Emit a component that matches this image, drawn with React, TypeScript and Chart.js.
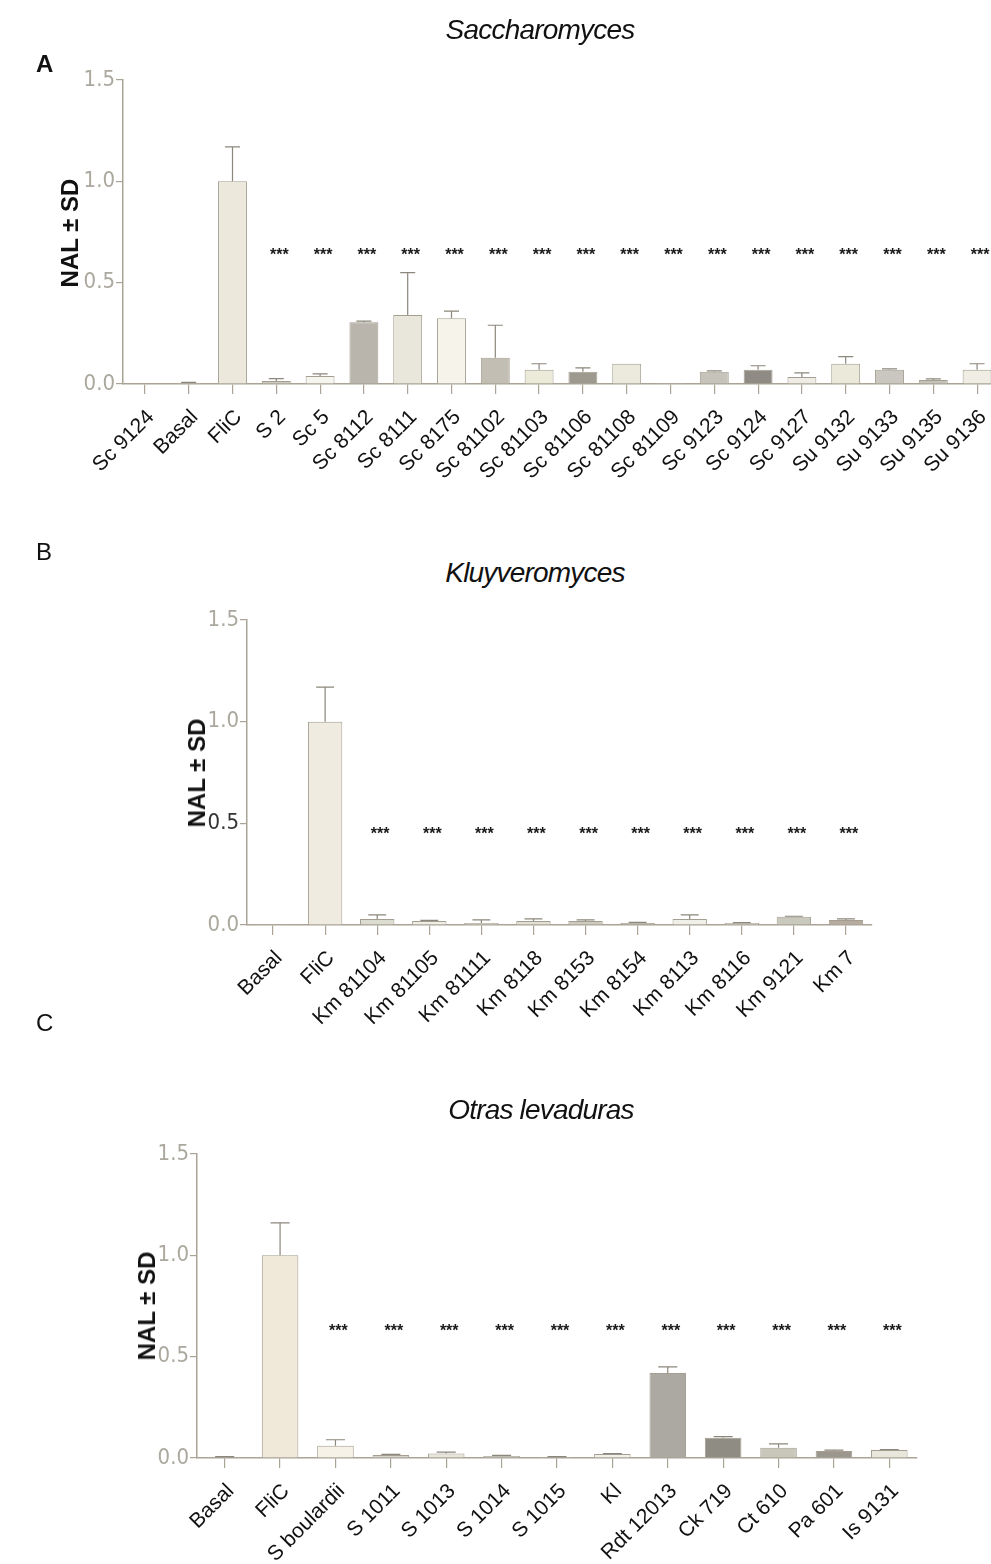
import React, { useEffect, useRef } from 'react';
import { Chart, registerables } from 'chart.js';

Chart.register(...registerables);

// ---- Panel A: Saccharomyces ----
const catsA = ['Sc 9124', 'Basal', 'FliC', 'S 2', 'Sc 5', 'Sc 8112', 'Sc 8111', 'Sc 8175', 'Sc 81102', 'Sc 81103', 'Sc 81106', 'Sc 81108', 'Sc 81109', 'Sc 9123', 'Sc 9124', 'Sc 9127', 'Su 9132', 'Su 9133', 'Su 9135', 'Su 9136'];
const nalA = [0, 0.005, 1.0, 0.015, 0.04, 0.305, 0.34, 0.325, 0.13, 0.07, 0.06, 0.1, 0.005, 0.06, 0.07, 0.035, 0.1, 0.07, 0.02, 0.07];
const sdA = [0, 0.003, 0.17, 0.012, 0.01, 0.005, 0.21, 0.035, 0.16, 0.03, 0.02, 0, 0, 0.005, 0.02, 0.02, 0.035, 0.005, 0.005, 0.03];
const fillA = ['#e6e3da', '#d6d2c8', '#ece8dc', '#cfcbc2', '#f7f5ef', '#b9b5ad', '#e9e6dc', '#f5f3ea', '#c2beb4', '#ecead9', '#9d998f', '#eceadd', '#cdcac2', '#c6c3ba', '#8f8b84', '#eeece4', '#ebe9d9', '#c9c7bf', '#c4c2ba', '#efede4'];
const starsFromA = 3;
const starLevelA = 0.66;

// ---- Panel B: Kluyveromyces ----
const catsB = ['Basal', 'FliC', 'Km 81104', 'Km 81105', 'Km 81111', 'Km 8118', 'Km 8153', 'Km 8154', 'Km 8113', 'Km 8116', 'Km 9121', 'Km 7'];
const nalB = [0.004, 1.0, 0.03, 0.02, 0.01, 0.02, 0.02, 0.01, 0.03, 0.01, 0.04, 0.025];
const sdB = [0, 0.17, 0.02, 0.003, 0.015, 0.01, 0.005, 0.003, 0.02, 0.002, 0.003, 0.005];
const fillB = ['#d8d4ca', '#efebe0', '#dcdcd0', '#eeeee6', '#e6e2da', '#e2e0d4', '#cdcbc0', '#c2b2a8', '#f0efe8', '#e4e2dc', '#c9c9bd', '#b7aba0'];
const starsFromB = 2;
const starLevelB = 0.47;

// ---- Panel C: Otras levaduras ----
const catsC = ['Basal', 'FliC', 'S boulardii', 'S 1011', 'S 1013', 'S 1014', 'S 1015', 'Kl', 'Rdt 12013', 'Ck 719', 'Ct 610', 'Pa 601', 'Is 9131'];
const nalC = [0.005, 1.0, 0.06, 0.015, 0.022, 0.01, 0.005, 0.02, 0.42, 0.1, 0.05, 0.035, 0.04];
const sdC = [0.002, 0.16, 0.03, 0.003, 0.007, 0.003, 0.002, 0.002, 0.03, 0.005, 0.02, 0.004, 0.002];
const fillC = ['#cfc9c0', '#f0e9da', '#f6f2e7', '#d6d4cc', '#e8e6da', '#cfcdc5', '#dedcd6', '#f2f0ea', '#aca9a2', '#8f8c84', '#c9c7ba', '#9b978f', '#e9e7dc'];
const starsFromC = 2;
const starLevelC = 0.65;

const yTicks = [0, 0.5, 1.0, 1.5];

const AXIS = '#a9a496';
const BAR_EDGE = '#a39e90';
const ERR = '#8c877c';
const TICK_TEXT = '#aba89e';
const NARROW = "'Liberation Sans Narrow', 'DejaVu Sans Condensed', 'Liberation Sans', Arial, sans-serif";
const SANS = "'Liberation Sans', Arial, Helvetica, sans-serif";

type Panel = {
  labels: string[];
  values: number[];
  sd: number[];
  fills: string[];
  starsFrom: number;
  starLevel: number;
  top: number; // canvas top on page
  width: number;
  height: number;
  plotLeft: number;
  plotRight: number;
  plotTop: number;
  plotBottom: number;
  darkTick?: number;
};

const panels: Panel[] = [
  { labels: catsA, values: nalA, sd: sdA, fills: fillA, starsFrom: starsFromA, starLevel: starLevelA, top: 0, width: 1030, height: 540, plotLeft: 123, plotRight: 999, plotTop: 80, plotBottom: 384 },
  { labels: catsB, values: nalB, sd: sdB, fills: fillB, starsFrom: starsFromB, starLevel: starLevelB, top: 590, width: 991, height: 460, plotLeft: 247, plotRight: 872, plotTop: 620, plotBottom: 925, darkTick: 1 },
  { labels: catsC, values: nalC, sd: sdC, fills: fillC, starsFrom: starsFromC, starLevel: starLevelC, top: 1125, width: 991, height: 439, plotLeft: 197, plotRight: 917, plotTop: 1154, plotBottom: 1458 },
];

function errorBars(sd: number[]) {
  return {
    id: 'errorBars',
    afterDatasetsDraw(chart: any) {
      const meta = chart.getDatasetMeta(0);
      const ys = chart.scales.y;
      const data = chart.data.datasets[0].data as number[];
      const ctx = chart.ctx;
      ctx.save();
      ctx.strokeStyle = ERR;
      ctx.lineWidth = 1.2;
      meta.data.forEach((bar: any, i: number) => {
        const s = sd[i];
        if (!s) return;
        const yBar = ys.getPixelForValue(data[i]);
        const yTop = ys.getPixelForValue(data[i] + s);
        const half = bar.width * 0.26;
        ctx.beginPath();
        ctx.moveTo(bar.x, yBar);
        ctx.lineTo(bar.x, yTop);
        ctx.moveTo(bar.x - half, yTop);
        ctx.lineTo(bar.x + half, yTop);
        ctx.stroke();
      });
      ctx.restore();
    },
  };
}

function significance(from: number, level: number) {
  return {
    id: 'significance',
    afterDatasetsDraw(chart: any) {
      const meta = chart.getDatasetMeta(0);
      const ys = chart.scales.y;
      const ctx = chart.ctx;
      const size = 16;
      ctx.save();
      ctx.fillStyle = '#1a1a1a';
      ctx.font = `bold ${size}px ${SANS}`;
      ctx.textAlign = 'center';
      ctx.textBaseline = 'alphabetic';
      const y = ys.getPixelForValue(level) + size * 0.58;
      meta.data.forEach((bar: any, i: number) => {
        if (i < from) return;
        ctx.fillText('***', bar.x + 3, y);
      });
      ctx.restore();
    },
  };
}

function PanelChart({ p }: { p: Panel }) {
  const ref = useRef<HTMLCanvasElement | null>(null);
  useEffect(() => {
    if (!ref.current) return;
    const padTop = p.plotTop - p.top;
    const xHeight = p.height - (p.plotBottom - p.top);
    const chart = new Chart(ref.current, {
      type: 'bar',
      data: {
        labels: p.labels,
        datasets: [
          {
            data: p.values,
            backgroundColor: p.fills,
            borderColor: BAR_EDGE,
            borderWidth: 1,
            barPercentage: 0.66,
            categoryPercentage: 1,
          },
        ],
      },
      options: {
        responsive: false,
        animation: false,
        devicePixelRatio: 1,
        layout: { padding: { left: 0, top: padTop, right: p.width - p.plotRight, bottom: 0 } },
        plugins: { legend: { display: false }, tooltip: { enabled: false }, title: { display: false } },
        scales: {
          x: {
            offset: true,
            grid: { display: true, drawOnChartArea: false, offset: false, tickLength: 10, color: AXIS, lineWidth: 1.2 },
            border: { display: true, color: AXIS, width: 1.5 },
            ticks: {
              color: '#111',
              font: { family: SANS, size: 21 },
              minRotation: 45,
              maxRotation: 45,
              autoSkip: false,
              padding: 11,
              labelOffset: 6,
            },
            afterFit: (s: any) => {
              s.height = xHeight;
            },
          },
          y: {
            min: 0,
            max: 1.5,
            afterBuildTicks: (s: any) => {
              s.ticks = yTicks.map((v) => ({ value: v }));
            },
            grid: { display: true, drawOnChartArea: false, tickLength: 7, color: AXIS, lineWidth: 1.2 },
            border: { display: true, color: AXIS, width: 1.5 },
            ticks: {
              padding: 1,
              font: { family: NARROW, size: 22 },
              color: (c: any) => (p.darkTick !== undefined && c.index === p.darkTick ? '#333' : TICK_TEXT),
              callback: (v: any) => Number(v).toFixed(1),
            },
            afterFit: (s: any) => {
              s.width = p.plotLeft;
            },
          },
        },
      },
      plugins: [errorBars(p.sd), significance(p.starsFrom, p.starLevel)],
    });
    return () => chart.destroy();
  }, [p]);
  return (
    <canvas
      ref={ref}
      width={p.width}
      height={p.height}
      style={{ position: 'absolute', left: 0, top: p.top, width: p.width, height: p.height }}
    />
  );
}

const titleStyle: React.CSSProperties = {
  position: 'absolute',
  transform: 'translate(-50%, -50%)',
  fontFamily: SANS,
  fontStyle: 'italic',
  fontSize: 28,
  letterSpacing: '-0.8px',
  color: '#111',
  whiteSpace: 'nowrap',
};

const yTitleStyle: React.CSSProperties = {
  position: 'absolute',
  transform: 'translate(-50%, -50%) rotate(-90deg)',
  fontFamily: SANS,
  fontWeight: 'bold',
  fontSize: 24,
  color: '#111',
  whiteSpace: 'nowrap',
};

const letterStyle: React.CSSProperties = {
  position: 'absolute',
  fontFamily: SANS,
  fontSize: 24,
  color: '#111',
  lineHeight: 1,
};

export default function App() {
  return (
    <div style={{ position: 'absolute', left: 0, top: 0, width: 991, height: 1564, overflow: 'hidden', background: '#fff' }}>
      {panels.map((p, i) => (
        <PanelChart key={i} p={p} />
      ))}
      <div style={{ ...titleStyle, left: 540, top: 30 }}>Saccharomyces</div>
      <div style={{ ...titleStyle, left: 535, top: 573 }}>Kluyveromyces</div>
      <div style={{ ...titleStyle, left: 541, top: 1110 }}>Otras levaduras</div>

      <div style={{ ...yTitleStyle, left: 70, top: 233 }}>NAL ± SD</div>
      <div style={{ ...yTitleStyle, left: 197, top: 773 }}>NAL ± SD</div>
      <div style={{ ...yTitleStyle, left: 147, top: 1306 }}>NAL ± SD</div>

      <div style={{ ...letterStyle, left: 36, top: 52, fontWeight: 'bold' }}>A</div>
      <div style={{ ...letterStyle, left: 36, top: 540 }}>B</div>
      <div style={{ ...letterStyle, left: 36, top: 1011 }}>C</div>
    </div>
  );
}
